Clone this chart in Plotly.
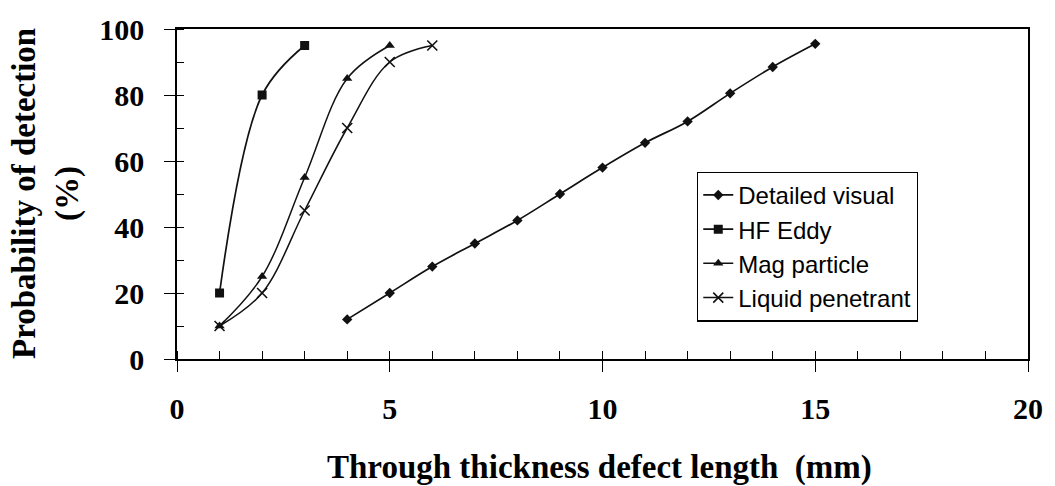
import plotly.graph_objects as go

# ---- data ----
dv_x = [4, 5, 6, 7, 8, 9, 10, 11, 12, 13, 14, 15]
dv_y = [12, 20, 28, 35, 42, 50, 58, 65.5, 72, 80.5, 88.5, 95.5]

hf_x = [1, 2, 3]
hf_y = [20, 80, 95]

mp_x = [1, 2, 3, 4, 5]
mp_y = [10, 25, 55, 85, 95]

lp_x = [1, 2, 3, 4, 5, 6]
lp_y = [10, 20, 45, 70, 90, 95]

x_ticks = [0, 5, 10, 15, 20]
y_ticks = [0, 20, 40, 60, 80, 100]

series_names = ["Detailed visual", "HF Eddy", "Mag particle", "Liquid penetrant"]

# ---- styles ----
INK = "#111111"
SERIF = "Liberation Serif"
SANS = "Liberation Sans"

fig = go.Figure()

fig.add_trace(go.Scatter(x=dv_x, y=dv_y, name=series_names[0], mode="lines+markers",
                         line=dict(color=INK, width=1.7, shape="spline"),
                         marker=dict(symbol="diamond", size=8, color=INK),
                         cliponaxis=False))
fig.add_trace(go.Scatter(x=hf_x, y=hf_y, name=series_names[1], mode="lines+markers",
                         line=dict(color=INK, width=1.7, shape="spline"),
                         marker=dict(symbol="square", size=9, color=INK),
                         cliponaxis=False))
fig.add_trace(go.Scatter(x=mp_x, y=mp_y, name=series_names[2], mode="lines+markers",
                         line=dict(color=INK, width=1.5, shape="spline"),
                         marker=dict(symbol="triangle-up", size=9, color=INK),
                         cliponaxis=False))
fig.add_trace(go.Scatter(x=lp_x, y=lp_y, name=series_names[3], mode="lines+markers",
                         line=dict(color=INK, width=1.5, shape="spline"),
                         marker=dict(symbol="x-thin-open", size=10, color=INK,
                                     line=dict(color=INK, width=1.6)),
                         cliponaxis=False))

tickfont = dict(family=SERIF, size=30, color="black", weight="bold")

fig.update_layout(
    width=1055, height=486,
    margin=dict(l=177, r=19, t=23, b=127),
    paper_bgcolor="white", plot_bgcolor="white",
    showlegend=True,
    legend=dict(x=0.611, y=0.568, xanchor="left", yanchor="top",
                bgcolor="white", bordercolor="black", borderwidth=1.3,
                font=dict(family=SANS, size=24, color="black"),
                tracegroupgap=0, itemwidth=30),
    xaxis=dict(range=[0, 20], tickvals=x_ticks, ticktext=[str(v) for v in x_ticks],
               showgrid=False, zeroline=False, showline=True, linecolor="black",
               linewidth=1.6, mirror=True, ticks="outside", ticklen=11,
               tickwidth=1.4, tickcolor="black", tickfont=tickfont,
               ticklabelstandoff=11,
               minor=dict(dtick=1, ticks="inside", ticklen=8, tickwidth=1.3,
                          tickcolor="black", showgrid=False)),
    yaxis=dict(range=[0, 100], tickvals=y_ticks, ticktext=[str(v) for v in y_ticks],
               showgrid=False, zeroline=False, showline=True, linecolor="black",
               linewidth=1.6, mirror=True, ticks="outside", ticklen=11,
               tickwidth=1.4, tickcolor="black", tickfont=tickfont,
               ticklabelstandoff=14,
               minor=dict(dtick=10, ticks="inside", ticklen=7, tickwidth=1.3,
                          tickcolor="black", showgrid=False)),
    xaxis2=dict(range=[0, 20], overlaying="x", anchor="y", side="bottom",
                tickvals=x_ticks, ticks="inside", ticklen=8, tickwidth=1.4,
                tickcolor="black", showticklabels=False, showgrid=False,
                zeroline=False, showline=False),
    yaxis2=dict(range=[0, 100], overlaying="y", anchor="x", side="left",
                tickvals=y_ticks, ticks="inside", ticklen=10, tickwidth=1.4,
                tickcolor="black", showticklabels=False, showgrid=False,
                zeroline=False, showline=False),
    annotations=[
        dict(text="Through thickness defect length&nbsp;&nbsp;(mm)",
             xref="paper", yref="paper", x=0.497, y=0, xanchor="center",
             yanchor="middle", yshift=-108, showarrow=False,
             font=dict(family=SERIF, size=33, color="black", weight="bold")),
        dict(text="Probability of detection<br>(%)",
             xref="paper", yref="paper", x=0, y=0.5, xanchor="center",
             yanchor="middle", xshift=-131, showarrow=False, textangle=-90,
             font=dict(family=SERIF, size=33, color="black", weight="bold")),
    ],
)

fig.write_html("out.html")
